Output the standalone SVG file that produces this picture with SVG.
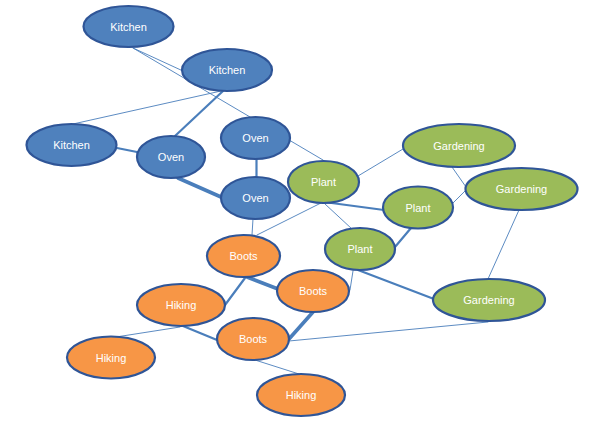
<svg xmlns="http://www.w3.org/2000/svg" width="600" height="429" viewBox="0 0 600 429">
<style>
.n ellipse{stroke:#2F5597;stroke-width:2.2}
.blue ellipse{fill:#4F81BD}
.green ellipse{fill:#9BBB59}
.orange ellipse{fill:#F79646}
.n text{font-family:"Liberation Sans",Arial,sans-serif;font-size:11px;fill:#FFFFFF;text-anchor:middle;dominant-baseline:central}
#connectors line{stroke:#4A7EBB;stroke-linecap:round}
.t1{stroke-width:0.9}
.t2{stroke-width:2.2}
.t3{stroke-width:3.6}
</style>
<rect width="600" height="429" fill="#FFFFFF"/>
<g id="connectors">
<line class="t1" x1="133" y1="48" x2="183" y2="71"/>
<line class="t1" x1="133" y1="48" x2="323" y2="160"/>
<line class="t1" x1="221" y1="91" x2="73" y2="124"/>
<line class="t2" x1="223" y1="91" x2="175" y2="136"/>
<line class="t2" x1="117" y1="148" x2="137" y2="152"/>
<line class="t3" x1="178" y1="178" x2="221" y2="197"/>
<line class="t2" x1="256.5" y1="159" x2="256.5" y2="177"/>
<line class="t1" x1="253" y1="219" x2="252" y2="235"/>
<line class="t1" x1="321" y1="203" x2="257" y2="235"/>
<line class="t1" x1="325" y1="204" x2="352" y2="229"/>
<line class="t2" x1="324" y1="202" x2="384" y2="210"/>
<line class="t1" x1="358" y1="176" x2="403" y2="149"/>
<line class="t1" x1="452" y1="167" x2="466" y2="187"/>
<line class="t1" x1="453" y1="203" x2="466" y2="190"/>
<line class="t2" x1="411" y1="228" x2="395" y2="247"/>
<line class="t1" x1="519" y1="210" x2="488" y2="279"/>
<line class="t2" x1="358" y1="270" x2="434" y2="299"/>
<line class="t1" x1="353" y1="271" x2="350" y2="290"/>
<line class="t1" x1="289" y1="341" x2="488" y2="322"/>
<line class="t3" x1="247" y1="277" x2="278" y2="289"/>
<line class="t2" x1="245" y1="278" x2="225" y2="305"/>
<line class="t3" x1="313" y1="312" x2="289" y2="339"/>
<line class="t2" x1="183" y1="326" x2="217" y2="340"/>
<line class="t1" x1="180" y1="327" x2="116" y2="337"/>
<line class="t1" x1="255" y1="360" x2="299" y2="374"/>
</g>
<g id="kitchen1" class="n blue"><ellipse cx="128.5" cy="26.5" rx="45" ry="20.5"/><text x="128.5" y="26.5">Kitchen</text></g>
<g id="kitchen2" class="n blue"><ellipse cx="227" cy="70" rx="45" ry="21"/><text x="227" y="70">Kitchen</text></g>
<g id="kitchen3" class="n blue"><ellipse cx="71.5" cy="145" rx="45" ry="21"/><text x="71.5" y="145">Kitchen</text></g>
<g id="oven1" class="n blue"><ellipse cx="171" cy="157" rx="34" ry="21"/><text x="171" y="157">Oven</text></g>
<g id="oven2" class="n blue"><ellipse cx="255.5" cy="138" rx="34.5" ry="21"/><text x="255.5" y="138">Oven</text></g>
<g id="oven3" class="n blue"><ellipse cx="255.5" cy="198" rx="34.5" ry="21"/><text x="255.5" y="198">Oven</text></g>
<g id="gardening1" class="n green"><ellipse cx="459" cy="145.5" rx="56" ry="21.5"/><text x="459" y="145.5">Gardening</text></g>
<g id="gardening2" class="n green"><ellipse cx="521.5" cy="189" rx="56" ry="21"/><text x="521.5" y="189">Gardening</text></g>
<g id="plant1" class="n green"><ellipse cx="323.5" cy="182" rx="35.5" ry="21"/><text x="323.5" y="182">Plant</text></g>
<g id="plant2" class="n green"><ellipse cx="418" cy="207.5" rx="35" ry="21"/><text x="418" y="207.5">Plant</text></g>
<g id="plant3" class="n green"><ellipse cx="360" cy="249" rx="35" ry="21"/><text x="360" y="249">Plant</text></g>
<g id="gardening3" class="n green"><ellipse cx="489" cy="300" rx="56" ry="21"/><text x="489" y="300">Gardening</text></g>
<g id="boots1" class="n orange"><ellipse cx="243.5" cy="256" rx="36.5" ry="21"/><text x="243.5" y="256">Boots</text></g>
<g id="boots2" class="n orange"><ellipse cx="313" cy="291" rx="36" ry="21"/><text x="313" y="291">Boots</text></g>
<g id="hiking1" class="n orange"><ellipse cx="181" cy="305" rx="44" ry="21"/><text x="181" y="305">Hiking</text></g>
<g id="boots3" class="n orange"><ellipse cx="253" cy="339" rx="36" ry="21"/><text x="253" y="339">Boots</text></g>
<g id="hiking2" class="n orange"><ellipse cx="111" cy="357.5" rx="44" ry="21"/><text x="111" y="357.5">Hiking</text></g>
<g id="hiking3" class="n orange"><ellipse cx="301" cy="395" rx="44" ry="21"/><text x="301" y="395">Hiking</text></g>
</svg>
